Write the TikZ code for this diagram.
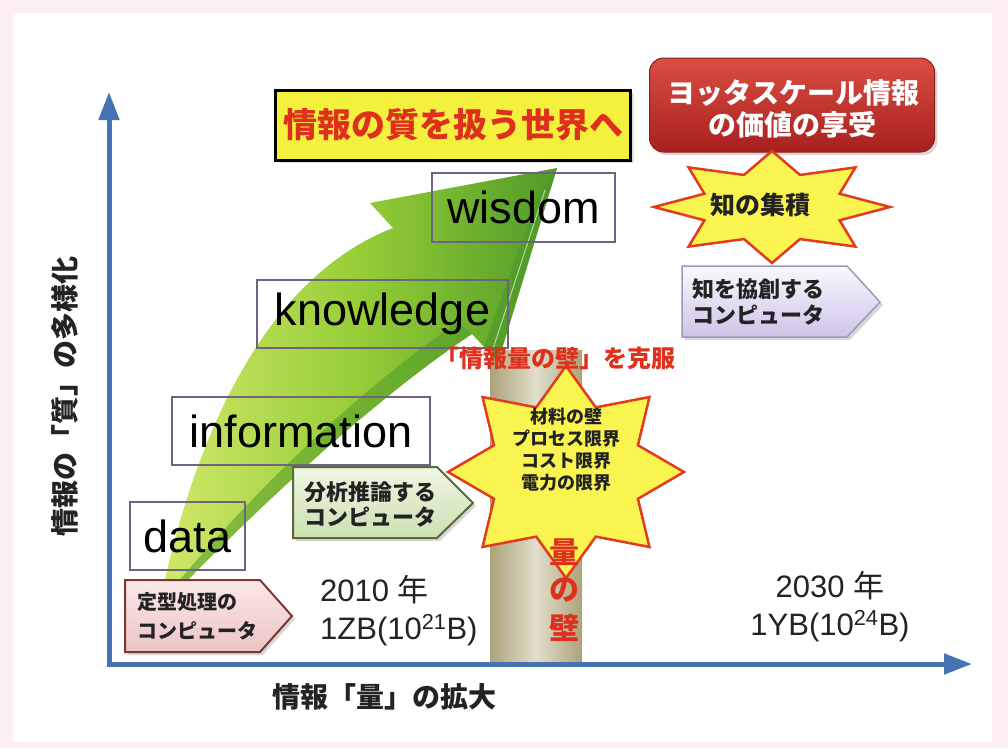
\documentclass[tikz,border=0pt]{standalone}
\usepackage{fontspec}
\setmainfont{Liberation Sans}
\newfontfamily\jp{Noto Sans CJK JP}
\usetikzlibrary{arrows.meta,shadows}

\definecolor{bgpink}{RGB}{252,238,242}
\definecolor{axisblue}{RGB}{70,115,180}
\definecolor{boxline}{RGB}{110,100,130}
\definecolor{hlyellow}{RGB}{244,240,62}
\definecolor{titlered}{RGB}{222,48,28}
\definecolor{starfill}{RGB}{250,244,80}
\definecolor{starline}{RGB}{226,60,30}
\definecolor{greenlight}{RGB}{208,232,105}
\definecolor{greenmid}{RGB}{150,205,55}
\definecolor{greendark}{RGB}{80,155,40}
\definecolor{tanedge}{RGB}{172,162,122}
\definecolor{tanmid}{RGB}{226,222,204}
\definecolor{redtop}{RGB}{218,78,66}
\definecolor{redbot}{RGB}{168,32,30}
\definecolor{redline}{RGB}{140,30,28}
\definecolor{pinktop}{RGB}{251,232,232}
\definecolor{pinkbot}{RGB}{236,196,196}
\definecolor{pinkline}{RGB}{125,55,55}
\definecolor{sagetop}{RGB}{240,246,228}
\definecolor{sagebot}{RGB}{204,224,178}
\definecolor{sageline}{RGB}{85,110,55}
\definecolor{liltop}{RGB}{250,248,253}
\definecolor{lilbot}{RGB}{206,196,232}
\definecolor{lilline}{RGB}{160,150,190}
\definecolor{inkgray}{RGB}{35,35,35}

\newcommand\jpf[1]{\jp\bfseries\fontsize{#1}{#1}\selectfont}
\newcommand\enf[1]{\fontsize{#1}{#1}\selectfont}

\begin{document}
\begin{tikzpicture}[x=1pt,y=-1pt,
  axisline/.style={axisblue,line width=5pt,-{Triangle[length=28pt,width=20pt]}},
  wordbox/.style={draw=boxline,line width=1.3pt,inner sep=0pt,font=\enf{45},text=black},
  tagshape/.style={line width=2pt,drop shadow={opacity=0.3,shadow xshift=3pt,shadow yshift=-3pt}},
  starshape/.style={fill=starfill,draw=starline,line width=2.5pt,line join=miter},
  plain/.style={inner sep=0pt,text=inkgray}
]
% page and panel
\fill[bgpink] (0,0) rectangle (1008,748);
\fill[white] (13,13) rectangle (992,742);

% the wall of information volume
\shade[left color=tanedge,right color=tanedge,middle color=tanmid] (490,350) rectangle (582,664);

% axes
\coordinate (origin) at (109,666);
\coordinate (ytip) at (109,92);
\coordinate (xorigin) at (107,664);
\coordinate (xtip) at (972,664);
\draw[axisline] (origin) -- (ytip);
\draw[axisline] (xorigin) -- (xtip);

% big curved green arrow
\shade[left color=greenlight,right color=greendark,middle color=greenmid]
  (163,588) .. controls (200,420) and (272,275) .. (393,228)
  -- (370,203) -- (557,168) -- (498,362) -- (472,334)
  .. controls (405,378) and (300,465) .. (180,588) -- cycle;
\fill[greendark,opacity=0.75] (557,168) -- (498,362) -- (484,347) -- (538,196) -- cycle;
\fill[greendark,opacity=0.55] (472,334) .. controls (405,378) and (300,465) .. (180,588)
  -- (173,588) .. controls (280,460) and (385,372) .. (458,322) -- cycle;
\draw[white,opacity=0.6,line width=1pt] (545,190) -- (492,352);

% DIKW boxes
\node[wordbox,minimum width=183pt,minimum height=69pt] (wisdom) at (523.5,207.5) {wisdom};
\node[wordbox,minimum width=251pt,minimum height=68pt] (knowledge) at (382.5,314) {knowledge};
\node[wordbox,minimum width=258pt,minimum height=68pt] (information) at (301,431) {information};
\node[wordbox,minimum width=115pt,minimum height=68pt] (data) at (187.5,536) {data};

% headline boxes
\node[draw=black,line width=3pt,fill=hlyellow,minimum width=355pt,minimum height=70pt,
      drop shadow={opacity=0.25,shadow xshift=3pt,shadow yshift=-3pt},
      font=\jpf{34},text=titlered] (quality) at (453,125) {情報の質を扱う世界へ};
\node[draw=redline,line width=1pt,rounded corners=14pt,top color=redtop,bottom color=redbot,
      minimum width=285pt,minimum height=94pt,
      drop shadow={opacity=0.3,shadow xshift=3pt,shadow yshift=-3pt}] (yotta) at (792,105) {};
\node[plain,text=white,font=\jpf{28}] (yotta1) at (793,93) {ヨッタスケール情報};
\node[plain,text=white,font=\jpf{28}] (yotta2) at (792,125) {の価値の享受};

% star: accumulation of knowledge
\begin{scope}[shift={(772,207)}]
\filldraw[starshape] (0:118 and 56)
  \foreach \a/\f in {22.5/0.62,45/1,67.5/0.62,90/1,112.5/0.62,135/1,157.5/0.62,180/1,
                     202.5/0.62,225/1,247.5/0.62,270/1,292.5/0.62,315/1,337.5/0.62}
  { -- (\a:{\f*118} and {\f*56}) } -- cycle;
\end{scope}
\node[plain,font=\jpf{25}] (chi) at (760,205) {知の集積};

% star: limits of the wall
\begin{scope}[shift={(566,472)}]
\filldraw[starshape] (0:118 and 106)
  \foreach \a/\f in {22.5/0.66,45/1,67.5/0.66,90/1,112.5/0.66,135/1,157.5/0.66,180/1,
                     202.5/0.66,225/1,247.5/0.66,270/1,292.5/0.66,315/1,337.5/0.66}
  { -- (\a:{\f*118} and {\f*106}) } -- cycle;
\end{scope}
\node[plain,font=\jpf{18}] (lim1) at (566,417) {材料の壁};
\node[plain,font=\jpf{18}] (lim2) at (566,439) {プロセス限界};
\node[plain,font=\jpf{18}] (lim3) at (566,461) {コスト限界};
\node[plain,font=\jpf{18}] (lim4) at (566,483) {電力の限界};

\node[plain,text=titlered,font=\jpf{24}] (overcome) at (555,358) {「情報量の壁」を克服};
\node[plain,text=titlered,font=\jpf{30}] (wall1) at (564,552) {量};
\node[plain,text=titlered,font=\jpf{30}] (wall2) at (564,590) {の};
\node[plain,text=titlered,font=\jpf{30}] (wall3) at (564,628) {壁};

% computer tags
\draw[tagshape,draw=pinkline,top color=pinktop,bottom color=pinkbot]
  (125,580) -- (260,580) -- (292,616) -- (260,652) -- (125,652) -- cycle;
\node[plain,anchor=west,font=\jpf{20}] (fixed1) at (137,602) {定型処理の};
\node[plain,anchor=west,font=\jpf{20}] (fixed2) at (137,631) {コンピュータ};

\draw[tagshape,draw=sageline,top color=sagetop,bottom color=sagebot]
  (293,467) -- (437,467) -- (473,503) -- (437,538) -- (293,538) -- cycle;
\node[plain,anchor=west,font=\jpf{22}] (anal1) at (304,492) {分析推論する};
\node[plain,anchor=west,font=\jpf{22}] (anal2) at (304,517) {コンピュータ};

\draw[tagshape,line width=1.5pt,draw=lilline,top color=liltop,bottom color=lilbot]
  (682,266) -- (847,266) -- (880,302) -- (847,337) -- (682,337) -- cycle;
\node[plain,anchor=west,font=\jpf{22}] (co1) at (692,289) {知を協創する};
\node[plain,anchor=west,font=\jpf{22}] (co2) at (692,315) {コンピュータ};

% volume milestones
\node[plain,anchor=base west,font=\enf{31}] (y2010a) at (320,601) {2010 {\jp 年}};
\node[plain,anchor=base west,font=\enf{31}] (y2010b) at (320,639) {1ZB(10\textsuperscript{21}B)};
\node[plain,anchor=base,font=\enf{31}] (y2030a) at (830,597) {2030 {\jp 年}};
\node[plain,anchor=base,font=\enf{31}] (y2030b) at (830,635) {1YB(10\textsuperscript{24}B)};

% axis labels
\node[plain,rotate=90,font=\jpf{28}] (ylab) at (65,396) {情報の「質」の多様化};
\node[plain,font=\jpf{28}] (xlab) at (384,697) {情報「量」の拡大};
\end{tikzpicture}
\end{document}
